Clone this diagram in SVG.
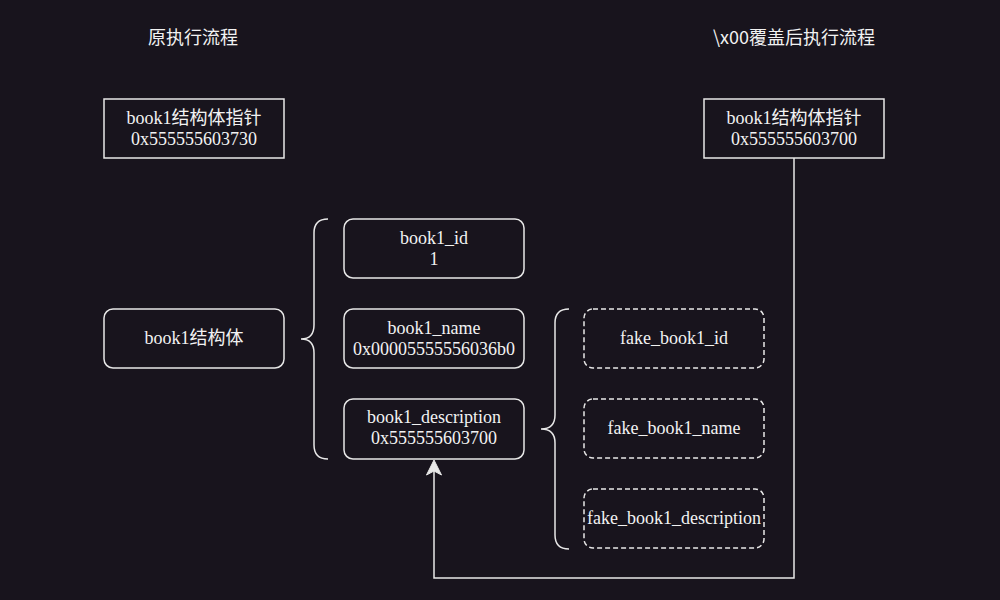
<svg xmlns="http://www.w3.org/2000/svg" width="1000" height="600" viewBox="0 0 1000 600">
<style>
.bg{fill:#18141d}
.box{fill:#18141d;stroke:#e8e8e8;stroke-width:1.5}
.dash{fill:#18141d;stroke:#e8e8e8;stroke-width:1.5;stroke-dasharray:5 3}
.t{font-family:"Liberation Serif","Noto Sans CJK SC",serif;font-size:18px;fill:#f2f2f2;text-anchor:middle}
.h{font-family:"Noto Sans CJK SC","Noto Sans",sans-serif;font-size:18px;fill:#f2f2f2;text-anchor:middle}
.ln{fill:none;stroke:#e8e8e8;stroke-width:1.5}
</style>
<rect class="bg" x="0" y="0" width="1000" height="600"/>
<g id="title1"><text class="h" x="193" y="44">原执行流程</text></g>
<g id="title2"><text class="h" x="794" y="44">\x00覆盖后执行流程</text></g>
<g id="ptr1"><rect class="box" x="104" y="99" width="180" height="59"/><text class="t" x="194" y="124">book1结构体指针</text><text class="t" x="194" y="145">0x555555603730</text></g>
<g id="ptr2"><rect class="box" x="704" y="99" width="180" height="59"/><text class="t" x="794" y="124">book1结构体指针</text><text class="t" x="794" y="145">0x555555603700</text></g>
<g id="struct"><rect class="box" x="104" y="309" width="180" height="59" rx="9"/><text class="t" x="194" y="344">book1结构体</text></g>
<g id="brace1"><path class="ln" d="M328,219 Q314,219 314,233 L314,325 Q314,339 301,339 Q314,339 314,353 L314,445 Q314,459 328,459"/></g>
<g id="id"><rect class="box" x="344" y="219" width="180" height="59" rx="9"/><text class="t" x="434" y="244">book1_id</text><text class="t" x="434" y="265">1</text></g>
<g id="name"><rect class="box" x="344" y="309" width="180" height="59" rx="9"/><text class="t" x="434" y="334">book1_name</text><text class="t" x="434" y="355">0x00005555556036b0</text></g>
<g id="desc"><rect class="box" x="344" y="399" width="180" height="60" rx="9"/><text class="t" x="434" y="423">book1_description</text><text class="t" x="434" y="444">0x555555603700</text></g>
<g id="brace2"><path class="ln" d="M569,309 Q555,309 555,323 L555,415 Q555,429 541,429 Q555,429 555,443 L555,535 Q555,549 569,549"/></g>
<g id="fid"><rect class="dash" x="584" y="309" width="180" height="59" rx="9"/><text class="t" x="674" y="344">fake_book1_id</text></g>
<g id="fname"><rect class="dash" x="584" y="399" width="180" height="59" rx="9"/><text class="t" x="674" y="434">fake_book1_name</text></g>
<g id="fdesc"><rect class="dash" x="584" y="489" width="180" height="59" rx="9"/><text class="t" x="674" y="524">fake_book1_description</text></g>
<g id="connectors">
<path class="ln" d="M794,158 L794,578 L434,578 L434,470"/>
<path d="M434,460 L441.5,475 L434,471 L426.5,475 Z" fill="#e8e8e8" stroke="#e8e8e8" stroke-width="1"/>
</g>
</svg>
